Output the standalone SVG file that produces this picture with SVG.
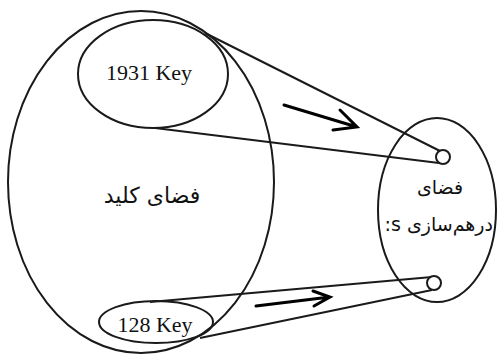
<svg xmlns="http://www.w3.org/2000/svg" width="500" height="354" viewBox="0 0 500 354">
<style>
.o{fill:none;stroke:#1a1a1a;stroke-width:2}
.c{fill:#fff;stroke:#1a1a1a;stroke-width:2}
.a{fill:none;stroke:#000;stroke-width:3;stroke-linecap:round;stroke-linejoin:miter}
.en{font-family:"Liberation Serif","Times New Roman",serif;font-size:22px;fill:#111}
.fa{font-family:"DejaVu Sans","Noto Sans",sans-serif;fill:#111}
</style>
<defs>
<clipPath id="rc"><ellipse cx="437" cy="210" rx="59" ry="92"/></clipPath>
</defs>
<rect width="500" height="354" fill="#fff"/>
<g id="keyspace">
<ellipse class="o" cx="141" cy="182" rx="133" ry="171"/>
<text class="fa" x="152" y="203" font-size="22" text-anchor="middle" direction="rtl">فضای کلید</text>
</g>
<g id="hashspace">
<ellipse class="o" cx="437" cy="210" rx="59" ry="92"/>
<text class="fa" x="440" y="194" font-size="19" text-anchor="middle" direction="rtl">فضای</text>
<g clip-path="url(#rc)">
<text class="fa" x="493" y="231" font-size="19" text-anchor="end">:s<tspan font-size="19"> </tspan><tspan direction="rtl" unicode-bidi="embed">درهم‌سازی</tspan></text>
</g>
</g>
<g id="connectors">
<line class="o" x1="205" y1="33" x2="440" y2="151"/>
<line class="o" x1="155" y1="128" x2="439" y2="163"/>
<line class="o" x1="150" y1="302" x2="432" y2="277"/>
<line class="o" x1="200" y1="338" x2="432" y2="290"/>
<path class="a" d="M284 105 L357 127 M340 110 L357 127 L333 130"/>
<path class="a" d="M256 306 L330 297 M313 291 L330 297 L314 306"/>
</g>
<g id="key1931">
<ellipse class="o" cx="153" cy="74" rx="75" ry="54"/>
<text class="en" x="149" y="80" text-anchor="middle">1931 Key</text>
</g>
<g id="key128">
<ellipse class="o" cx="156" cy="322" rx="57" ry="21"/>
<text class="en" x="155" y="332" text-anchor="middle">128 Key</text>
</g>
<g id="hash1"><circle class="c" cx="443" cy="157" r="7"/></g>
<g id="hash2"><circle class="c" cx="434" cy="283" r="7"/></g>
</svg>
